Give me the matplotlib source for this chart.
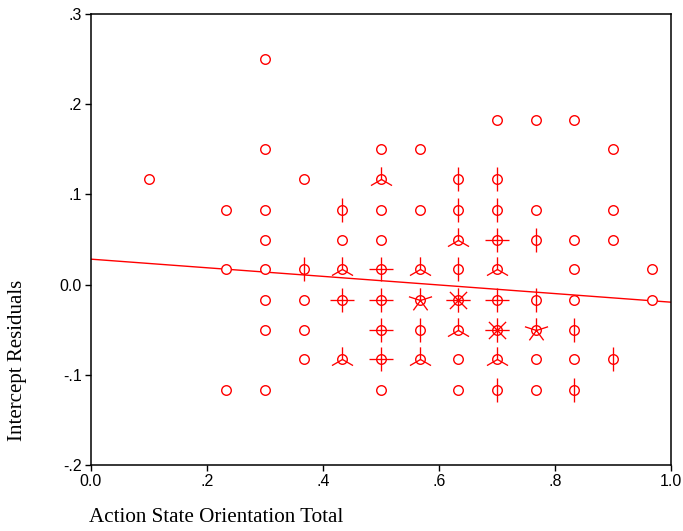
import numpy as np
import matplotlib
matplotlib.use("Agg")
import matplotlib.pyplot as plt
from matplotlib.path import Path

# Sunflower plot: each location drawn once, petals show how many cases share it
asot = [0.300,
        0.700, 0.767, 0.833,
        0.300, 0.500, 0.567, 0.900,
        0.100, 0.367, 0.500, 0.633, 0.700,
        0.233, 0.300, 0.433, 0.500, 0.567, 0.633, 0.700, 0.767, 0.900,
        0.300, 0.433, 0.500, 0.633, 0.700, 0.767, 0.833, 0.900,
        0.233, 0.300, 0.367, 0.433, 0.500, 0.567, 0.633, 0.700, 0.833, 0.967,
        0.300, 0.367, 0.433, 0.500, 0.567, 0.633, 0.700, 0.767, 0.833, 0.967,
        0.300, 0.367, 0.500, 0.567, 0.633, 0.700, 0.767, 0.833,
        0.367, 0.433, 0.500, 0.567, 0.633, 0.700, 0.767, 0.833, 0.900,
        0.233, 0.300, 0.500, 0.633, 0.700, 0.767, 0.833]
resid = [0.250,
         0.183, 0.183, 0.183,
         0.150, 0.150, 0.150, 0.150,
         0.117, 0.117, 0.117, 0.117, 0.117,
         0.083, 0.083, 0.083, 0.083, 0.083, 0.083, 0.083, 0.083, 0.083,
         0.050, 0.050, 0.050, 0.050, 0.050, 0.050, 0.050, 0.050,
         0.017, 0.017, 0.017, 0.017, 0.017, 0.017, 0.017, 0.017, 0.017, 0.017,
         -0.017, -0.017, -0.017, -0.017, -0.017, -0.017, -0.017, -0.017, -0.017, -0.017,
         -0.050, -0.050, -0.050, -0.050, -0.050, -0.050, -0.050, -0.050,
         -0.083, -0.083, -0.083, -0.083, -0.083, -0.083, -0.083, -0.083, -0.083,
         -0.117, -0.117, -0.117, -0.117, -0.117, -0.117, -0.117]
count = [1,
         1, 1, 1,
         1, 1, 1, 1,
         1, 1, 3, 2, 2,
         1, 1, 2, 1, 1, 2, 2, 1, 1,
         1, 1, 1, 3, 4, 2, 1, 1,
         1, 1, 2, 3, 4, 3, 2, 3, 1, 1,
         1, 1, 4, 4, 5, 8, 4, 2, 1, 1,
         1, 1, 4, 2, 3, 8, 5, 2,
         1, 3, 4, 3, 1, 3, 1, 1, 2,
         1, 1, 1, 1, 2, 1, 2]

# least-squares fit line
fit_intercept = 0.0282
fit_slope = -0.0477

x_ticks = [0.0, 0.2, 0.4, 0.6, 0.8, 1.0]
x_tick_labels = ["0.0", ".2", ".4", ".6", ".8", "1.0"]
y_ticks = [-0.2, -0.1, 0.0, 0.1, 0.2, 0.3]
y_tick_labels = ["-.2", "-.1", "0.0", ".1", ".2", ".3"]

RED = "#ff0000"


def petal_marker(n):
    """Line segments radiating from the centre, first one pointing up."""
    verts, codes = [], []
    for k in range(n):
        a = np.pi / 2 + 2 * np.pi * k / n
        verts += [(0, 0), (0.5 * np.cos(a), 0.5 * np.sin(a))]
        codes += [Path.MOVETO, Path.LINETO]
    return Path(verts, codes)


fig = plt.figure(figsize=(6.83, 5.31), dpi=100)
ax = fig.add_axes([91 / 683, 1 - 465 / 531, 580 / 683, 451 / 531])

x = np.array(asot)
y = np.array(resid)
n = np.array(count)

xl = np.array([0.0, 1.0])
ax.plot(xl, fit_intercept + fit_slope * xl, color=RED, lw=1.0, zorder=2)

ax.plot(x, y, ls="none", marker="o", ms=6.9, mfc="white", mec=RED,
        mew=1.0, zorder=3)
for c in sorted(set(count)):
    if c < 2:
        continue
    sel = n == c
    ax.plot(x[sel], y[sel], ls="none", marker=petal_marker(c), ms=17.5,
            mfc="none", mec=RED, mew=0.95, zorder=4)

ax.set_xlim(0, 1)
ax.set_ylim(-0.2, 0.3)
ax.set_xticks(x_ticks)
ax.set_xticklabels(x_tick_labels)
ax.set_yticks(y_ticks)
ax.set_yticklabels(y_tick_labels)

for s in ax.spines.values():
    s.set_linewidth(1.1)
    s.set_color("black")
ax.tick_params(direction="out", length=4.5, width=1.0, pad=2,
               labelsize=11.5, top=False, right=False)
for lab in ax.get_xticklabels() + ax.get_yticklabels():
    lab.set_fontfamily("Liberation Sans")

fig.text(89 / 683, 1 - 517 / 531, "Action State Orientation Total",
         family="Liberation Serif", fontsize=15.2, ha="left", va="center")
fig.text(18 / 683, 1 - 441 / 531, "Intercept Residuals",
         family="Liberation Serif", fontsize=15, ha="center", va="bottom",
         rotation=90)

fig.savefig("out.png", dpi=100)
